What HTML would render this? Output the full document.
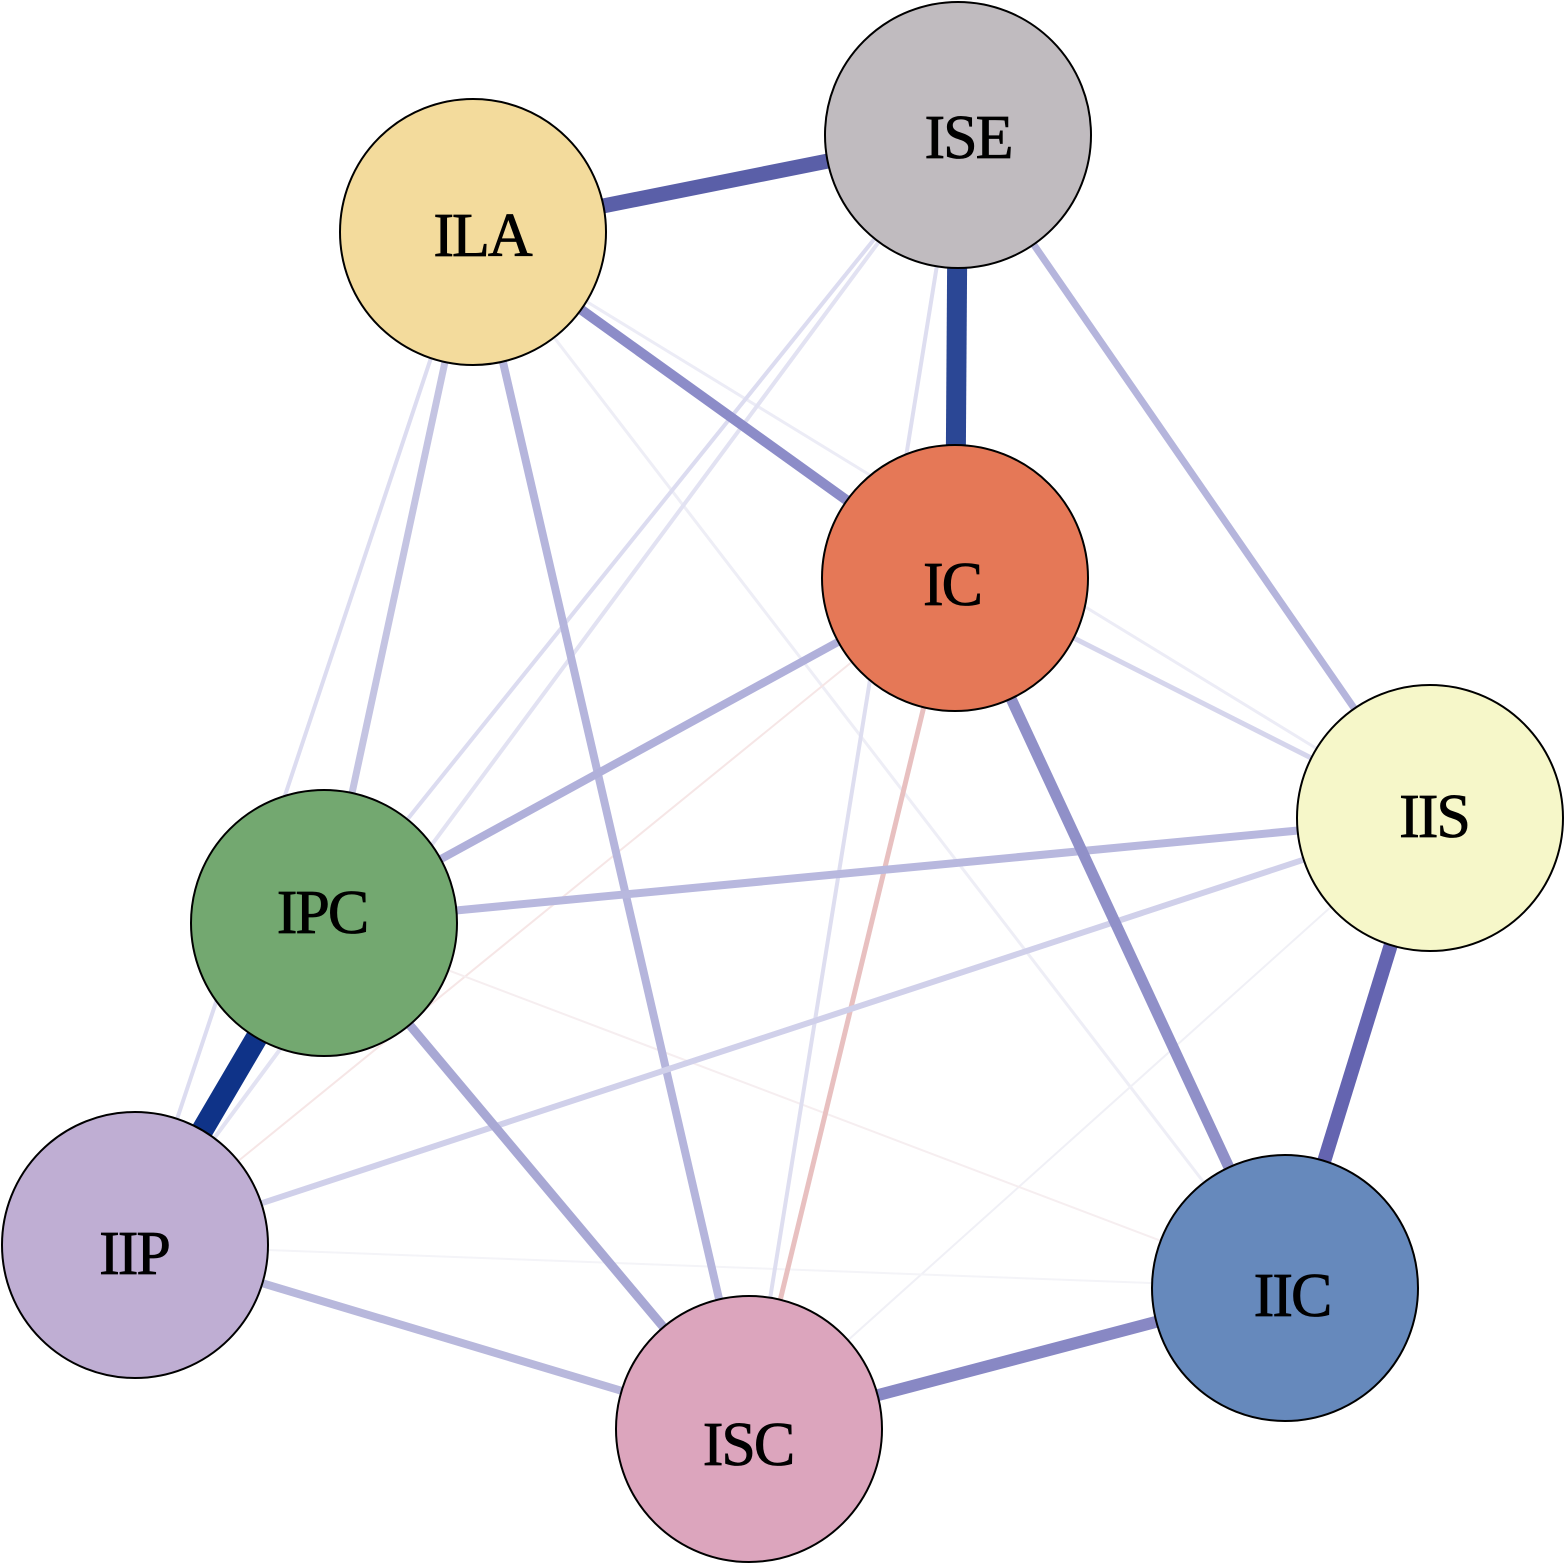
<!DOCTYPE html>
<html><head><meta charset="utf-8"><style>html,body{margin:0;padding:0;background:#fff}svg{display:block}</style></head>
<body>
<svg width="1565" height="1565" viewBox="0 0 1565 1565" xmlns="http://www.w3.org/2000/svg">
<g stroke-linecap="butt" fill="none">
<line x1="473" y1="232" x2="1285" y2="1288" stroke="#eeeef6" stroke-width="3"/>
<line x1="473" y1="232" x2="1430" y2="818" stroke="#ececf6" stroke-width="3"/>
<line x1="955" y1="578" x2="135" y2="1245" stroke="#f6e6e6" stroke-width="2"/>
<line x1="1430" y1="818" x2="749" y2="1429" stroke="#f0f0f6" stroke-width="2"/>
<line x1="324" y1="923" x2="1285" y2="1288" stroke="#f6eef0" stroke-width="2"/>
<line x1="135" y1="1245" x2="1285" y2="1288" stroke="#f4f4f8" stroke-width="2"/>
<line x1="958" y1="135" x2="324" y2="923" stroke="#dcdcf0" stroke-width="4"/>
<line x1="958" y1="135" x2="135" y2="1245" stroke="#e2e2f2" stroke-width="4"/>
<line x1="958" y1="135" x2="749" y2="1429" stroke="#dedef0" stroke-width="4"/>
<line x1="473" y1="232" x2="135" y2="1245" stroke="#dcdcf0" stroke-width="4"/>
<line x1="473" y1="232" x2="324" y2="923" stroke="#c4c4e2" stroke-width="7"/>
<line x1="473" y1="232" x2="749" y2="1429" stroke="#b5b5dc" stroke-width="8"/>
<line x1="955" y1="578" x2="1430" y2="818" stroke="#d5d5ec" stroke-width="5"/>
<line x1="955" y1="578" x2="749" y2="1429" stroke="#e8c0c0" stroke-width="5"/>
<line x1="1430" y1="818" x2="135" y2="1245" stroke="#d0d0ea" stroke-width="6"/>
<line x1="1430" y1="818" x2="324" y2="923" stroke="#b8b8de" stroke-width="8"/>
<line x1="955" y1="578" x2="324" y2="923" stroke="#b0b0da" stroke-width="8"/>
<line x1="958" y1="135" x2="1430" y2="818" stroke="#b5b5dc" stroke-width="7"/>
<line x1="324" y1="923" x2="749" y2="1429" stroke="#a8a8d4" stroke-width="9"/>
<line x1="135" y1="1245" x2="749" y2="1429" stroke="#b8b8dc" stroke-width="8"/>
<line x1="473" y1="232" x2="955" y2="578" stroke="#8c8cc8" stroke-width="10"/>
<line x1="955" y1="578" x2="1285" y2="1288" stroke="#9090c8" stroke-width="11"/>
<line x1="749" y1="1429" x2="1285" y2="1288" stroke="#8888c4" stroke-width="12"/>
<line x1="1430" y1="818" x2="1285" y2="1288" stroke="#6464b0" stroke-width="14"/>
<line x1="473" y1="232" x2="958" y2="135" stroke="#5a5fa8" stroke-width="15"/>
<line x1="958" y1="135" x2="955" y2="578" stroke="#2b4795" stroke-width="20"/>
<line x1="324" y1="923" x2="135" y2="1245" stroke="#0f3388" stroke-width="22"/>
</g>
<g stroke="#000" stroke-width="2">
<circle cx="958" cy="135" r="133" fill="#c0bbbf"/>
<circle cx="473" cy="232" r="133" fill="#f3db9c"/>
<circle cx="955" cy="578" r="133" fill="#e57857"/>
<circle cx="1430" cy="818" r="133" fill="#f6f7c9"/>
<circle cx="324" cy="923" r="133" fill="#73a870"/>
<circle cx="135" cy="1245" r="133" fill="#bfaed3"/>
<circle cx="749" cy="1429" r="133" fill="#dca5bd"/>
<circle cx="1285" cy="1288" r="133" fill="#6689bc"/>
</g>
<g font-family="Liberation Serif, serif" font-size="62" text-anchor="middle" fill="#000" stroke="#000" stroke-width="0.8" letter-spacing="-2">
<text x="968" y="158">ISE</text>
<text x="482" y="256">ILA</text>
<text x="952" y="605">IC</text>
<text x="1434" y="837">IIS</text>
<text x="322" y="933">IPC</text>
<text x="134" y="1274">IIP</text>
<text x="748" y="1465">ISC</text>
<text x="1292" y="1316">IIC</text>
</g>
</svg>
</body></html>
